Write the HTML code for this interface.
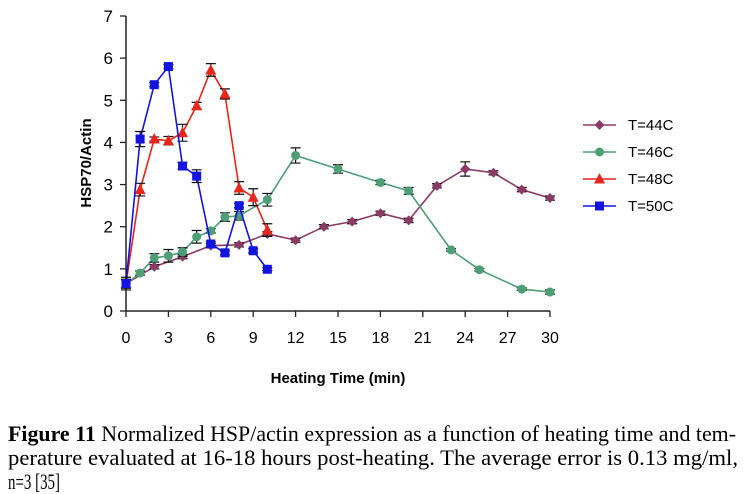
<!DOCTYPE html>
<html><head><meta charset="utf-8"><style>
html,body{margin:0;padding:0;background:#fff;}
svg{display:block;}
</style></head><body>
<svg id="chart" width="750" height="494" viewBox="0 0 750 494" xmlns="http://www.w3.org/2000/svg" font-family="Liberation Sans, Arial, sans-serif">
<g id="axes"></g>
<g id="series"></g>
<g id="legend"></g>
<text x="338" y="383" text-anchor="middle" font-weight="bold" font-size="15">Heating Time (min)</text>
<text transform="translate(91,163) rotate(-90)" text-anchor="middle" font-weight="bold" font-size="15">HSP70/Actin</text>
<g font-family="Liberation Serif, Times New Roman, serif" font-size="22">
<text x="8" y="441" textLength="728" lengthAdjust="spacingAndGlyphs"><tspan font-weight="bold">Figure 11</tspan> Normalized HSP/actin expression as a function of heating time and tem-</text>
<text x="8" y="465" textLength="730" lengthAdjust="spacingAndGlyphs">perature evaluated at 16-18 hours post-heating.  The average error is 0.13 mg/ml,</text>
<text x="8" y="489" textLength="52" lengthAdjust="spacingAndGlyphs">n=3 [35]</text>
</g>
</svg>
<script>
const xTicks = [0,3,6,9,12,15,18,21,24,27,30];
const yTicks = [0,1,2,3,4,5,6,7];
const seriesNames = ["T=44C","T=46C","T=48C","T=50C"];
const t44x = [0,2,4,6,8,10,12,14,16,18,20,22,24,26,28,30];
const t44y = [0.65,1.05,1.29,1.55,1.57,1.83,1.68,2.0,2.12,2.32,2.15,2.97,3.37,3.28,2.88,2.68];
const t44e = [0.1,0.05,0.05,0.05,0.05,0.05,0.05,0.05,0.05,0.05,0.05,0.05,0.17,0.05,0.05,0.05];
const t46x = [0,1,2,3,4,5,6,7,8,10,12,15,18,20,23,25,28,30];
const t46y = [0.64,0.9,1.26,1.31,1.4,1.76,1.9,2.23,2.26,2.64,3.69,3.37,3.05,2.85,1.45,0.98,0.52,0.45];
const t46e = [0.1,0.05,0.1,0.15,0.1,0.15,0.05,0.1,0.1,0.15,0.18,0.1,0.05,0.08,0.03,0.03,0.03,0.05];
const t48x = [0,1,2,3,4,5,6,7,8,9,10];
const t48y = [0.65,2.88,4.08,4.04,4.23,4.87,5.72,5.15,2.92,2.7,1.92];
const t48e = [0.1,0.15,0.05,0.1,0.2,0.08,0.15,0.12,0.15,0.2,0.15];
const t50x = [0,1,2,3,4,5,6,7,8,9,10];
const t50y = [0.65,4.08,5.37,5.8,3.44,3.2,1.59,1.38,2.5,1.43,0.99];
const t50e = [0.15,0.18,0.05,0.05,0.08,0.15,0.05,0.05,0.05,0.05,0.03];
const colors = ["#8b3a66","#4e9e76","#e8271c","#1414e0"];
const markers = ["diamond","circle","triangle","square"];

const NS="http://www.w3.org/2000/svg";
const X0=126,X1=550,Y0=311,Y1=16;
const sx=v=>X0+(v-0)/(30-0)*(X1-X0);
const sy=v=>Y0-(v-0)/(7-0)*(Y0-Y1);
function mk(tag,attrs,parent){const e=document.createElementNS(NS,tag);for(const k in attrs)e.setAttribute(k,attrs[k]);parent.appendChild(e);return e;}
const axes=document.getElementById('axes');
let yl=mk('line',{x1:X0,y1:Y1,x2:X0,y2:Y0,stroke:'#222','stroke-width':1.5},axes);


let xl=mk('line',{x1:X0,y1:Y0,x2:X1,y2:Y0,stroke:'#222','stroke-width':1.5},axes);


yTicks.forEach(v=>{
  mk('line',{x1:X0-6,y1:sy(v),x2:X0,y2:sy(v),stroke:'#222','stroke-width':1.3},axes);
  const t=mk('text',{x:X0-13,y:sy(v)+6,'text-anchor':'end','font-size':17},axes);t.textContent=v;
  
  
});
xTicks.forEach(v=>{
  mk('line',{x1:sx(v),y1:Y0,x2:sx(v),y2:Y0+6,stroke:'#222','stroke-width':1.3},axes);
  const t=mk('text',{x:sx(v),y:Y0+32,'text-anchor':'middle','font-size':16},axes);t.textContent=v;
  
  
});
function marker(type,x,y,c,parent){
  let e;
  if(type==='diamond') e=mk('polygon',{points:`${x},${y-5} ${x+5},${y} ${x},${y+5} ${x-5},${y}`,fill:c},parent);
  else if(type==='circle') e=mk('circle',{cx:x,cy:y,r:4.5,fill:c},parent);
  else if(type==='triangle') e=mk('polygon',{points:`${x},${y-6} ${x+5.5},${y+4.5} ${x-5.5},${y+4.5}`,fill:c},parent);
  else e=mk('rect',{x:x-4.5,y:y-4.5,width:9,height:9,fill:c},parent);
  return e;
}
const sg=document.getElementById('series');
const all=[[t44x,t44y,t44e],[t46x,t46y,t46e],[t48x,t48y,t48e],[t50x,t50y,t50e]];
all.forEach((s,i)=>{
  const g=mk('g',{},sg);
  
  
  const [xs,ys,es]=s;
  mk('polyline',{points:xs.map((x,j)=>sx(x)+','+sy(ys[j])).join(' '),fill:'none',stroke:colors[i],'stroke-width':1.6},g);
  xs.forEach((x,j)=>{
    const cx=sx(x),top=sy(ys[j]+es[j]),bot=sy(ys[j]-es[j]);
    mk('path',{d:`M${cx},${top}V${bot}M${cx-5},${top}H${cx+5}M${cx-5},${bot}H${cx+5}`,stroke:'#111','stroke-width':1.2,fill:'none'},g);
  });
  xs.forEach((x,j)=>{
    const m=marker(markers[i],sx(x),sy(ys[j]),colors[i],g);
    
    
  });
});
const lg=document.getElementById('legend');
seriesNames.forEach((n,i)=>{
  const y=125+i*27;
  const g=mk('g',{},lg);
  
  
  mk('line',{x1:583,y1:y,x2:616,y2:y,stroke:colors[i],'stroke-width':1.6},g);
  marker(markers[i],599.5,y,colors[i],g);
  const t=mk('text',{x:628,y:y+5,'font-size':15},g);t.textContent=n;
});
</script>
</body></html>
